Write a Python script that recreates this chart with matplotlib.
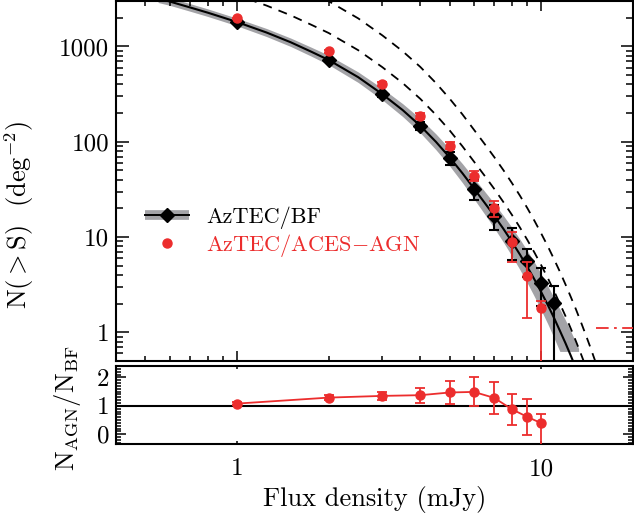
import matplotlib
matplotlib.use("Agg")
import matplotlib.pyplot as plt
from matplotlib.lines import Line2D
from matplotlib.ticker import LogLocator, MultipleLocator, NullFormatter, FixedLocator, FixedFormatter

plt.rcParams["font.family"] = "serif"
plt.rcParams["font.serif"] = ["cmr10"]
plt.rcParams["mathtext.fontset"] = "cm"
plt.rcParams["axes.unicode_minus"] = False
plt.rcParams["axes.formatter.use_mathtext"] = True

RED = "#ec2d2d"
BAND = "#a3a3a7"

# ── model curve (solid) and its uncertainty band ─────────────────────────────
model_s = [0.55, 0.6, 0.7, 0.8, 0.9, 1.0, 1.25, 1.5, 1.75, 2.0, 2.5, 3.0, 3.5,
           4.0, 4.5, 5.0, 5.5, 6.0, 6.5, 7.0, 7.5, 8.0, 8.5, 9.0, 9.5, 10.0,
           10.5, 11.0, 11.5, 12.0, 12.5, 13.0, 13.5]
model_n = [3170, 2965, 2570, 2265, 2010, 1803, 1400, 1107, 883, 721, 476, 316,
           215, 147, 100, 68.2, 46.8, 32.4, 23.0, 16.7, 12.2, 8.91, 6.56, 4.83,
           3.56, 2.62, 1.93, 1.42, 1.04, 0.769, 0.566, 0.417, 0.307]

band_s = [0.55, 0.6, 0.7, 0.8, 0.9, 1.0, 1.25, 1.5, 1.75, 2.0, 2.5, 3.0, 3.5,
          4.0, 4.5, 5.0, 5.5, 6.0, 6.5, 7.0, 7.5, 8.0, 8.5, 9.0, 9.5, 10.0,
          10.5, 11.0, 11.5, 12.0, 12.5, 13.0, 13.25]
band_hi = [3474, 3250, 2817, 2482, 2203, 1976, 1543, 1225, 984, 809, 540, 363,
           251, 175, 121, 83.9, 58.9, 41.7, 30.3, 22.5, 16.8, 12.6, 9.48, 7.14,
           5.39, 4.06, 3.06, 2.30, 1.75, 1.34, 1.02, 0.776, 0.679]
band_lo = [2892, 2705, 2345, 2067, 1834, 1645, 1270, 1000, 793, 643, 419, 275,
           184, 124, 82.6, 55.4, 37.2, 25.2, 17.5, 12.4, 8.84, 6.31, 4.54, 3.27,
           2.35, 1.69, 1.22, 0.875, 0.63, 0.63, 0.63, 0.63, 0.63]

# ── dashed curves ────────────────────────────────────────────────────────────
dash1_s = [1.0, 1.25, 1.5, 1.75, 2.0, 2.5, 3.0, 3.5, 4.0, 4.5, 5.0, 5.5, 6.0,
           6.5, 7.0, 7.5, 8.0, 8.5, 9.0, 9.5, 10.0, 10.5, 11.0, 11.5, 12.0,
           12.5, 13.0, 13.5, 14.0]
dash1_n = [3459, 2685, 2123, 1694, 1384, 914, 607, 413, 282, 192, 131, 89.7,
           62.1, 44.2, 32.0, 23.3, 17.1, 12.6, 9.27, 6.82, 5.02, 3.70, 2.72,
           2.00, 1.48, 1.09, 0.80, 0.589, 0.434]

dash2_s = [1.75, 2.0, 2.5, 3.0, 3.5, 4.0, 4.5, 5.0, 5.5, 6.0, 6.5, 7.0, 7.5,
           8.0, 8.5, 9.0, 9.5, 10.0, 10.5, 11.0, 11.5, 12.0, 12.5, 13.0, 13.5,
           14.0, 14.5, 15.0, 15.5]
dash2_n = [3656, 2985, 1972, 1309, 891, 610, 414, 282, 194, 134, 95.3, 69.0,
           50.4, 36.9, 27.2, 20.0, 14.7, 10.8, 7.98, 5.87, 4.33, 3.18, 2.34,
           1.73, 1.27, 0.935, 0.689, 0.507, 0.373]

# red dash-dot level at the right edge
level_s = [15.1, 25.0]
level_n = [1.12, 1.12]

# ── AzTEC/BF counts ─────────────────────────────────────────────────────────
bf_s = [1, 2, 3, 4, 5, 6, 7, 8, 9, 10, 11]
bf_n = [1800, 725, 316, 147, 68, 32, 16.8, 9.0, 5.67, 3.28, 2.03]
bf_lo = [40, 25, 20, 15, 11, 7.5, 4.9, 3.3, 1.9, 1.4, 2.0]
bf_hi = [40, 25, 20, 15, 11, 7.5, 4.9, 3.3, 1.9, 1.4, 1.05]

# ── AzTEC/ACES-AGN counts ────────────────────────────────────────────────────
agn_s = [1, 2, 3, 4, 5, 6, 7, 8, 9, 10]
agn_n = [1980, 886, 403, 187, 91, 44, 20.1, 8.8, 3.92, 1.82]
agn_lo = [30, 25, 20, 13, 8, 5, 4, 3.3, 2.5, 1.8]
agn_hi = [30, 25, 20, 13, 8, 5, 4, 2.6, 1.6, 0.3]

# ── ratio panel ──────────────────────────────────────────────────────────────
ratio_s = [1, 2, 3, 4, 5, 6, 7, 8, 9, 10]
ratio = [1.08, 1.29, 1.35, 1.375, 1.47, 1.49, 1.28, 0.88, 0.61, 0.39]
ratio_lo = [0.04, 0.08, 0.14, 0.26, 0.40, 0.51, 0.55, 0.54, 0.63, 0.80]
ratio_hi = [0.04, 0.08, 0.14, 0.26, 0.40, 0.51, 0.55, 0.54, 0.63, 0.34]

W, H = 634, 522
fig = plt.figure(figsize=(W / 100, H / 100), dpi=100)
ax = fig.add_axes([116 / W, 1 - 361 / H, 517 / W, 360 / H])
ax2 = fig.add_axes([116 / W, 1 - 444.3 / H, 517 / W, 78.3 / H])

# top panel
ax.fill_between(band_s, band_lo, band_hi, color=BAND, lw=0, zorder=1)
ax.plot(dash1_s, dash1_n, color="k", lw=1.3, ls=(0, (5, 4)), zorder=2)
ax.plot(dash2_s, dash2_n, color="k", lw=1.3, ls=(0, (5, 4)), zorder=2)
ax.plot(model_s, model_n, color="k", lw=1.5, zorder=3)
ax.plot(level_s, level_n, color=RED, lw=1.3, ls=(0, (7, 3, 1.5, 3)), zorder=3)

ax.errorbar(bf_s, bf_n, yerr=[bf_lo, bf_hi], fmt="D", color="k", ms=7.5,
            elinewidth=1.5, capsize=3.5, capthick=1.5, zorder=4)
ax.errorbar(agn_s, agn_n, yerr=[agn_lo, agn_hi], fmt="o", color=RED, ms=6.5,
            elinewidth=1.3, capsize=3.5, capthick=1.3, zorder=5)

ax.set_xscale("log")
ax.set_yscale("log")
ax.set_xlim(0.4, 20)
ax.set_ylim(0.5, 3000)

ax.yaxis.set_major_locator(FixedLocator([1, 10, 100, 1000]))
ax.yaxis.set_major_formatter(FixedFormatter(["1", "10", "100", "1000"]))
ax.yaxis.set_minor_locator(LogLocator(base=10, subs=range(2, 10)))
ax.yaxis.set_minor_formatter(NullFormatter())
ax.xaxis.set_major_locator(FixedLocator([1, 10]))
ax.xaxis.set_minor_locator(LogLocator(base=10, subs=range(2, 10)))
ax.xaxis.set_minor_formatter(NullFormatter())
ax.tick_params(axis="x", which="both", direction="in", top=True, bottom=True,
               labelbottom=False)
ax.tick_params(axis="x", which="major", length=7, width=1.1)
ax.tick_params(axis="x", which="minor", length=3.5, width=1.1)
ax.tick_params(axis="y", which="both", direction="in", left=True, right=True,
               labelsize=18, pad=5)
ax.tick_params(axis="y", which="major", length=9, width=1.1)
ax.tick_params(axis="y", which="minor", length=5, width=1.1)
for sp in ax.spines.values():
    sp.set_linewidth(1.5)

ax.set_ylabel(r"N($>$S)  (deg$^{-2}$)", fontsize=19)
ax.yaxis.set_label_coords(-0.155, 0.405)

band_h = Line2D([], [], color=BAND, lw=7, solid_capstyle="butt")
bf_h = Line2D([], [], color="k", lw=1.4, marker="D", ms=7.5)
agn_h = Line2D([], [], color=RED, ls="none", marker="o", ms=6.5)
ax.legend([(band_h, bf_h), agn_h], ["AzTEC/BF", r"AzTEC/ACES$-$AGN"],
          loc="upper left", bbox_to_anchor=(0.056, 0.43), frameon=False,
          fontsize=16, handlelength=2.0, handletextpad=0.75, borderpad=0,
          borderaxespad=0, labelspacing=0.15, labelcolor=["k", RED])

# ratio panel
ax2.axhline(1, color="k", lw=1.5, zorder=2)
ax2.errorbar(ratio_s, ratio, yerr=[ratio_lo, ratio_hi], fmt="-o", color=RED,
             ms=6.5, lw=1.3, elinewidth=1.3, capsize=3.5, capthick=1.3, zorder=3)
ax2.set_xscale("log")
ax2.set_xlim(0.4, 20)
ax2.set_ylim(-0.35, 2.4)
ax2.xaxis.set_major_locator(FixedLocator([1, 10]))
ax2.xaxis.set_major_formatter(FixedFormatter(["1", "10"]))
ax2.xaxis.set_minor_locator(LogLocator(base=10, subs=range(2, 10)))
ax2.xaxis.set_minor_formatter(NullFormatter())
ax2.yaxis.set_major_locator(FixedLocator([0, 1, 2]))
ax2.yaxis.set_major_formatter(FixedFormatter(["0", "1", "2"]))
ax2.yaxis.set_minor_locator(MultipleLocator(0.1))
ax2.tick_params(axis="x", which="both", direction="in", top=True, bottom=True,
                labelsize=18, pad=10)
ax2.tick_params(axis="x", which="major", length=2, width=1.1)
ax2.tick_params(axis="x", which="minor", length=1, width=1.1)
ax2.tick_params(axis="y", which="both", direction="in", left=True, right=True,
                labelsize=18, pad=5)
ax2.tick_params(axis="y", which="major", length=7, width=1.1)
ax2.tick_params(axis="y", which="minor", length=3.5, width=1.1)
for sp in ax2.spines.values():
    sp.set_linewidth(1.5)

ax2.set_xlabel("Flux density (mJy)", fontsize=19, labelpad=4)
ax2.set_ylabel(r"N$_{\rm AGN}$/N$_{\rm BF}$", fontsize=19)
ax2.yaxis.set_label_coords(-0.064, 0.46)

fig.savefig("out.png", dpi=100)
